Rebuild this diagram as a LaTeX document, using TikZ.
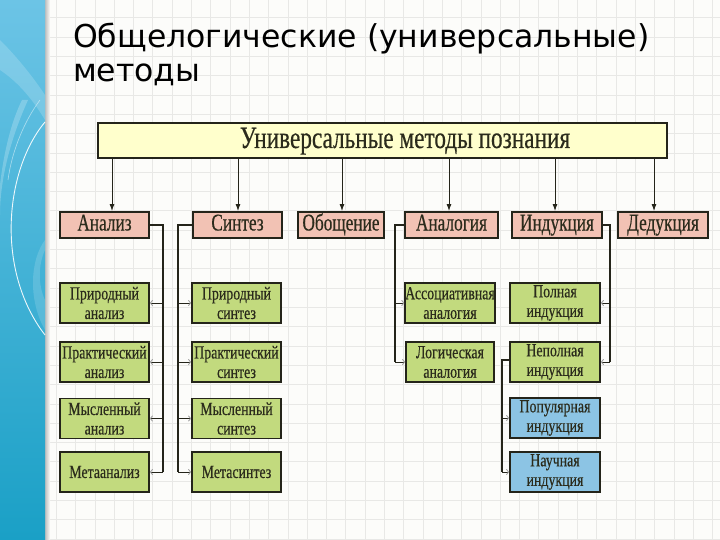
\documentclass[tikz,border=0pt]{standalone}
\usepackage{fontspec}
\setmainfont{DejaVu Sans}
\newfontfamily\bx[FakeStretch=0.75,FakeBold=0.4]{Liberation Serif}
\newfontfamily\bxn[FakeStretch=0.72,FakeBold=0.4]{Liberation Serif}
\usetikzlibrary{arrows.meta}
\definecolor{bdr}{HTML}{24241A}
\definecolor{txt}{HTML}{2B2B1C}
\definecolor{pinkc}{HTML}{F2C2B4}
\definecolor{greenc}{HTML}{C2DA7E}
\definecolor{bluec}{HTML}{8CC4E4}
\definecolor{yelc}{HTML}{FFFFCC}
\definecolor{gridc}{HTML}{E8E8E6}
\definecolor{bgc}{HTML}{FCFCFA}
\definecolor{bandtop}{HTML}{6CC4E6}
\definecolor{bandbot}{HTML}{1AA0C6}
\tikzset{
  box/.style={draw=bdr,line width=1.8pt,inner sep=0pt,text=txt},
  topbox/.style={box,fill=yelc,minimum width=569pt,minimum height=35pt,font=\bx\fontsize{31}{33}\selectfont,text height=21pt,text depth=6pt},
  headbox/.style={box,fill=pinkc,minimum height=26pt,font=\bxn\fontsize{24}{26}\selectfont,text height=16pt,text depth=5pt},
  subbox/.style={box,align=center,fill=greenc,minimum width=89pt,minimum height=40pt,font=\bx\fontsize{18.5}{19.5}\selectfont},
  bsub/.style={subbox,fill=bluec},
  down/.style={-{Latex[length=7pt,width=5pt]},line width=1pt,draw=bdr},
  trunk/.style={line width=1.1pt,draw=bdr},
  spur/.style={line width=0.9pt,draw=bdr,-{To[length=3pt,width=6pt,color=gray!70]}},
  gridline/.style={draw=gridc,line width=0.6pt},
  titletext/.style={anchor=base west,inner sep=0pt,font=\fontsize{31.5}{34}\selectfont,text=black}
}
\begin{document}
\begin{tikzpicture}[x=1pt,y=-1pt]
\useasboundingbox (0,0) rectangle (720,540);
% background and grid
\fill[bgc] (0,0) rectangle (720,540);
\foreach \i in {0,...,34} {\draw[gridline] ({56.2+19.3*\i},0) -- ({56.2+19.3*\i},540);}
\foreach \j in {0,...,27} {\draw[gridline] (45,{17.8+19.3*\j}) -- (720,{17.8+19.3*\j});}
% left band
\shade[left color=black!30,right color=bgc] (44,0) rectangle (50,540);
\shade[top color=bandtop,bottom color=bandbot] (0,0) rectangle (45,540);
\fill[white,opacity=0.18] (0,40) .. controls (20,60) and (35,80) .. (45,95) -- (45,120) .. controls (30,95) and (15,80) .. (0,70) -- cycle;
\fill[white,opacity=0.22] (28,100) .. controls (10,140) and (0,180) .. (0,215) -- (0,185) .. controls (4,150) and (12,120) .. (22,100) -- cycle;
\fill[white,opacity=0.15] (45,240) .. controls (30,260) and (28,300) .. (45,330) -- (45,300) .. controls (38,285) and (38,265) .. (45,250) -- cycle;
\draw[white,line width=0.9pt,opacity=0.9] (45,122) .. controls (5,170) and (-5,270) .. (45,335);
\draw[white,line width=0.6pt,opacity=0.5] (40,100) .. controls (25,120) and (12,150) .. (8,180);
% title
\node[titletext] (t1) at (73,48) {Общелогические (универсальные)};
\node[titletext] (t2) at (73,82) {методы};
% top box
\node[topbox] (top) at (382.5,140.5) {\hspace*{45pt}Универсальные методы познания};
% second row
\node[headbox,minimum width=89pt] (an) at (104.5,225) {Анализ};
\node[headbox,minimum width=89pt] (sy) at (237.5,225) {Синтез};
\node[headbox,minimum width=86pt] (ob) at (341,225) {Обощение};
\node[headbox,minimum width=93pt] (al) at (451.5,225) {Аналогия};
\node[headbox,minimum width=90pt] (in) at (557,225) {Индукция};
\node[headbox,minimum width=90pt] (de) at (663,225) {Дедукция};
% arrows from top
\draw[down] ([xshift=7.5pt]an.north |- top.south) -- ([xshift=7.5pt]an.north);
\draw[down] ([xshift=0.5pt]sy.north |- top.south) -- ([xshift=0.5pt]sy.north);
\draw[down] ([xshift=1pt]ob.north |- top.south) -- ([xshift=1pt]ob.north);
\draw[down] ([xshift=-2.5pt]al.north |- top.south) -- ([xshift=-2.5pt]al.north);
\draw[down] ([xshift=-2pt]in.north |- top.south) -- ([xshift=-2pt]in.north);
\draw[down] ([xshift=-9pt]de.north |- top.south) -- ([xshift=-9pt]de.north);
% analysis column
\node[subbox] (ga1) at (104.5,303) {Природный\\анализ};
\node[subbox] (ga2) at (104.5,362) {Практический\\анализ};
\node[subbox] (ga3) at (104.5,418.5) {Мысленный\\анализ};
\node[subbox] (ga4) at (104.5,472) {Метаанализ};
% synthesis column
\node[subbox] (gs1) at (236.5,303) {Природный\\синтез};
\node[subbox] (gs2) at (236.5,362) {Практический\\синтез};
\node[subbox] (gs3) at (236.5,418.5) {Мысленный\\синтез};
\node[subbox] (gs4) at (236.5,472) {Метасинтез};
% analogy column
\node[subbox,minimum width=88pt] (ag1) at (450,303) {Ассоциативная\\аналогия};
\node[subbox,minimum width=88pt] (ag2) at (450,362) {Логическая\\аналогия};
% induction column
\node[subbox,minimum width=90pt] (gi1) at (555,303) {Полная\\индукция};
\node[subbox,minimum width=90pt] (gi2) at (555,362) {Неполная\\индукция};
\node[bsub,minimum width=90pt] (bi1) at (555,418) {Популярная\\индукция};
\node[bsub,minimum width=90pt] (bi2) at (555,472) {Научная\\индукция};
% trunk coordinates
\coordinate (anv) at (163,225);
\coordinate (syv) at (178,225);
\coordinate (alv) at (395,225);
\coordinate (inv) at (610,225);
\coordinate (npv) at (502,364);
% trunks
\draw[trunk] (an.east) -| (anv |- ga4);
\draw[trunk] (sy.west) -| (syv |- gs4);
\draw[trunk] (al.west) -| (alv |- ag2);
\draw[trunk] (in.east) -| (inv |- gi2);
\draw[trunk] ([yshift=2pt]gi2.west) -| (npv |- bi2);
% spurs
\foreach \n in {ga1,ga2,ga3,ga4} {\draw[spur] (anv |- \n) -- (\n.east);}
\foreach \n in {gs1,gs2,gs3,gs4} {\draw[spur] (syv |- \n) -- (\n.west);}
\foreach \n in {ag1,ag2} {\draw[spur] (alv |- \n) -- (\n.west);}
\foreach \n in {gi1,gi2} {\draw[spur] (inv |- \n) -- (\n.east);}
\foreach \n in {bi1,bi2} {\draw[spur] (npv |- \n) -- (\n.west);}
\end{tikzpicture}
\end{document}
